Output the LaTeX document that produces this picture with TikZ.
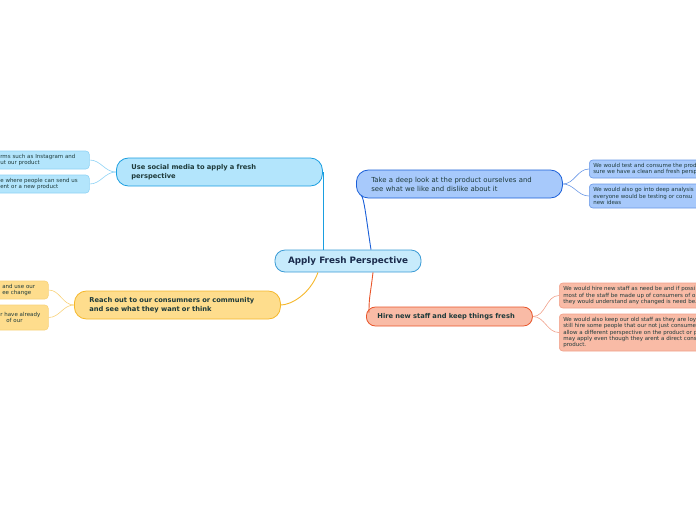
\documentclass[tikz,border=0pt]{standalone}
\usepackage{fontspec}
\setmainfont{DejaVu Sans}
\definecolor{cenF}{HTML}{C7EBFC}\definecolor{cenD}{HTML}{3A9BD5}
\definecolor{aF}{HTML}{B3E5FC}\definecolor{aD}{HTML}{1A9EE0}\definecolor{aL}{HTML}{8FD3F5}
\definecolor{bF}{HTML}{A7C9FB}\definecolor{bD}{HTML}{1A5FD8}\definecolor{bL}{HTML}{6A98E6}
\definecolor{cF}{HTML}{FEDD8D}\definecolor{cD}{HTML}{F5B72A}\definecolor{cL}{HTML}{F8D27A}
\definecolor{dF}{HTML}{F9BBA6}\definecolor{dD}{HTML}{E8552A}\definecolor{dL}{HTML}{F0A08A}
\definecolor{txt}{HTML}{1E3A3A}\definecolor{ctxt}{HTML}{1A2B4C}
\tikzset{
  branch/.style={draw, line width=0.8pt, rounded corners=12pt, anchor=west, align=left,
    inner xsep=15pt, inner ysep=0pt, minimum height=28pt, text=txt,
    font=\fontsize{6.9}{9}\selectfont},
  bbranch/.style={branch, font=\bfseries\fontsize{6.7}{9}\selectfont},
  leaf/.style={draw, line width=0.6pt, rounded corners=3.5pt, anchor=west, align=left,
    inner xsep=4pt, inner ysep=0pt, text=txt, font=\fontsize{5.5}{6.4}\selectfont},
  lnk/.style={line width=0.9pt},
  llnk/.style={line width=0.6pt}
}
\begin{document}
\begin{tikzpicture}[x=1pt,y=-1pt]
\useasboundingbox (0,0) rectangle (696,520);
\begin{scope}
\clip (0,0) rectangle (696,520);
% center
\node[draw=cenD, fill=cenF, line width=0.8pt, rounded corners=10pt, minimum width=146pt, minimum height=22pt,
  inner sep=0pt, text=ctxt, font=\bfseries\fontsize{8.8}{9}\selectfont] (ctr) at (348,261) {Apply Fresh Perspective};
% branches
\node[bbranch, draw=aD, fill=aF, minimum width=206pt, text width=176pt] (A) at (116,172)
  {Use social media to apply a fresh\\perspective};
\node[branch, draw=bD, fill=bF, minimum width=206pt, text width=176pt] (B) at (356,184)
  {Take a deep look at the product ourselves and\\see what we like and dislike about it};
\node[bbranch, draw=cD, fill=cF, minimum width=206pt, text width=176pt] (C) at (74,305)
  {Reach out to our consumners or community\\and see what they want or think};
\node[bbranch, draw=dD, fill=dF, rounded corners=9pt, minimum height=19pt,
  minimum width=166pt, inner xsep=11pt, text width=144pt] (D) at (366,316.5)
  {Hire new staff and keep things fresh};
% leaves of A (cut at left edge)
\node[leaf, draw=aL, fill=aF, minimum height=18pt, text width=101pt] (A1) at (-20,160)
  {\hspace*{16pt}rms such as Instagram and\\\hspace*{16pt}ut our product};
\node[leaf, draw=aL, fill=aF, minimum height=18pt, text width=101pt] (A2) at (-20,184)
  {\hspace*{16pt}e where people can send us\\\hspace*{16pt}ent or a new product};
% leaves of B (cut at right edge)
\node[leaf, draw=bL, fill=bF, minimum height=18pt, text width=150pt] (B1) at (589,169)
  {We would test and consume the prod\\sure we have a clean and fresh persp};
\node[leaf, draw=bL, fill=bF, minimum height=24pt, text width=150pt] (B2) at (589,196)
  {We would also go into deep analysis\\everyone would be testing or consu\\new ideas};
% leaves of C (cut at left edge)
\node[leaf, draw=cL, fill=cF, minimum height=18pt, text width=60pt] (C1) at (-20,290)
  {\hspace*{18pt}and use our\\\hspace*{18pt}ee change};
\node[leaf, draw=cL, fill=cF, minimum height=25pt, text width=60pt] (C2) at (-20,317.5)
  {\hspace*{16pt}r have already\\\hspace*{22pt}of our};
% leaves of D (cut at right edge)
\node[leaf, draw=dL, fill=dF, minimum height=25pt, text width=160pt] (D1) at (559,295.5)
  {We would hire new staff as need be and if possi\\most of the staff be made up of consumers of o\\they would understand any changed is need be.};
\node[leaf, draw=dL, fill=dF, minimum height=37pt, text width=160pt] (D2) at (559,332.5)
  {We would also keep our old staff as they are loy\\still hire some people that our not just consume\\allow a different perspective on the product or p\\may apply even though they arent a direct cons\\product.};
% main connectors
\draw[lnk, draw=aD] ([xshift=-25pt]ctr.north) -- ([xshift=-25pt]ctr.north |- A.east) -- (A.east);
\draw[lnk, draw=bD] ([xshift=23pt]ctr.north) .. controls ([xshift=19pt,yshift=25pt]ctr.north) and ([xshift=8pt,yshift=3pt]B.south west) .. ([xshift=5pt,yshift=3pt]B.south west);
\draw[lnk, draw=cD] ([xshift=-30pt]ctr.south) .. controls ([xshift=-38pt,yshift=-22pt]ctr.south) and ([xshift=10pt]C.east) .. (C.east);
\draw[lnk, draw=dD] ([xshift=25pt]ctr.south) .. controls ([xshift=22pt,yshift=-25pt]ctr.south) and ([xshift=3pt,yshift=10pt]D.north west) .. ([xshift=3pt,yshift=-6pt]D.north west);
% leaf connectors
\draw[llnk, draw=aL] (A.west) to[out=180,in=0] (A1.east);
\draw[llnk, draw=aL] (A.west) to[out=180,in=0] (A2.east);
\draw[llnk, draw=bL] (B.east) to[out=0,in=180] (B1.west);
\draw[llnk, draw=bL] (B.east) to[out=0,in=180] (B2.west);
\draw[llnk, draw=cL] (C.west) to[out=180,in=0] (C1.east);
\draw[llnk, draw=cL] (C.west) to[out=180,in=0] (C2.east);
\draw[llnk, draw=dL] (D.east) to[out=0,in=180] (D1.west);
\draw[llnk, draw=dL] (D.east) to[out=0,in=180] (D2.west);
\end{scope}
\end{tikzpicture}
\end{document}
